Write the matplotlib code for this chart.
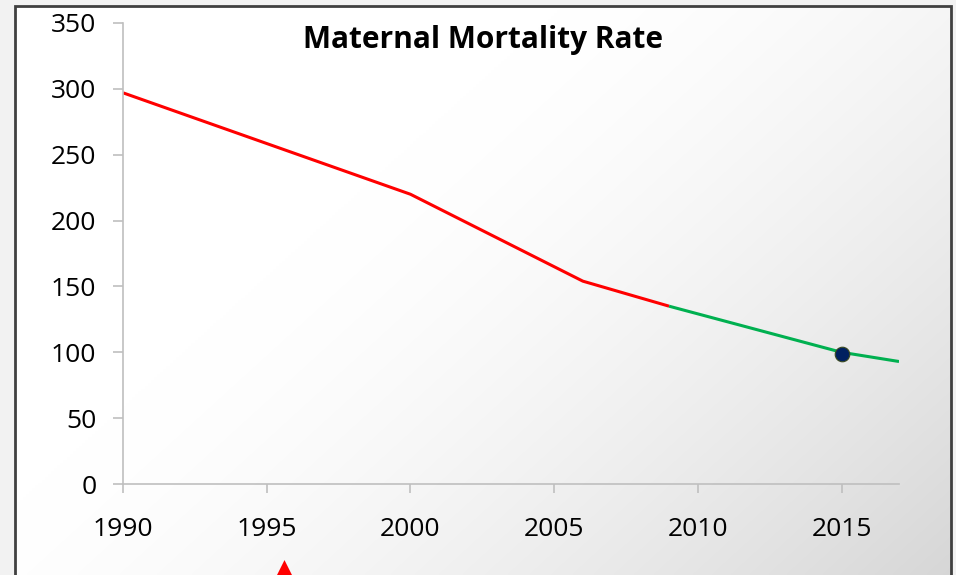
import matplotlib
matplotlib.use("Agg")
import matplotlib.pyplot as plt
import numpy as np
from matplotlib.patches import Rectangle

# Data
years_red = [1990, 2000, 2006, 2009]
mmr_red = [297, 220, 154, 135]
years_green = [2009, 2015, 2017]
mmr_green = [135, 100, 93]
target_year = [2015]
target_val = [99]
marker_year = [1995.6]
marker_val = [-70]
x_ticks = [1990, 1995, 2000, 2005, 2010, 2015]
y_ticks = [0, 50, 100, 150, 200, 250, 300, 350]
title = "Maternal Mortality Rate"

plt.rcParams['font.family'] = ['Open Sans', 'DejaVu Sans']

fig = plt.figure(figsize=(9.56, 5.75), dpi=100)
fig.patch.set_facecolor('#f2f2f2')

# gradient background
bg = fig.add_axes([15/956, 0, (952-15)/956, 1-6/575], zorder=-2)
h, w = 200, 300
yy, xx = np.mgrid[0:h, 0:w]
t = (xx / w) * 0.6 + (yy / h) * 0.4
t = np.clip((t - 0.35) / 0.65, 0, 1)
vals = 1.0 - 0.16 * t ** 1.5
img = np.dstack([vals, vals, vals])
bg.imshow(img, aspect='auto', extent=[0, 1, 0, 1], origin='upper', interpolation='bilinear')
bg.set_xlim(0, 1)
bg.set_ylim(0, 1)
bg.axis('off')
fig.patches.append(Rectangle((15/956, -0.1), (951-15)/956, 1.1 - 6/575,
                             transform=fig.transFigure, fill=False,
                             edgecolor='#404040', linewidth=2, zorder=5))

ax = fig.add_axes([123/956, 1-484/575, (899-123)/956, (484-23)/575])
ax.patch.set_alpha(0)
ax.plot(years_red, mmr_red, color='#ff0000', linewidth=2.2, solid_capstyle='butt')
ax.plot(years_green, mmr_green, color='#00b050', linewidth=2.2, solid_capstyle='butt')
ax.scatter(target_year, target_val, s=110, color='#002060', edgecolors='#3a4a20',
           linewidths=0.8, zorder=5)
ax.scatter(marker_year, marker_val, s=560, marker='^', color='#ff0000',
           clip_on=False, zorder=5, linewidths=0)

ax.set_xlim(1990, 2017)
ax.set_ylim(0, 350)
ax.set_xticks(x_ticks)
ax.set_yticks(y_ticks)
ax.set_xticklabels([str(v) for v in x_ticks])
ax.set_yticklabels([str(v) for v in y_ticks])
for s in ['top', 'right']:
    ax.spines[s].set_visible(False)
for s in ['left', 'bottom']:
    ax.spines[s].set_color('#bfbfbf')
    ax.spines[s].set_linewidth(1.2)
ax.tick_params(axis='both', colors='#bfbfbf', width=1.2, labelcolor='black',
               labelsize=19)
ax.tick_params(axis='x', length=6.5, pad=17)
ax.tick_params(axis='y', length=7.2, pad=12)

fig.text(483/956, 1-40/575, title, ha='center', va='center', fontsize=21.5,
         fontweight='bold', color='black')

fig.savefig('out.png', dpi=100)
